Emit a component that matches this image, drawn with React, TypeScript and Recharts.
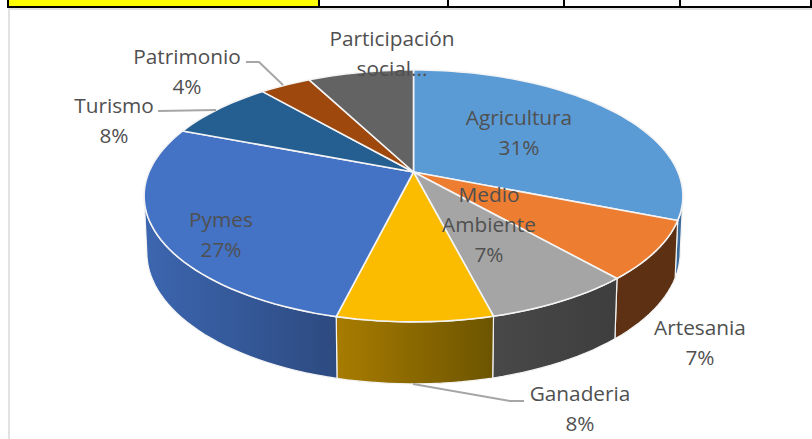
import React from 'react';
import { PieChart, Pie } from 'recharts';

const categories = ['Agricultura', 'Artesania', 'Medio Ambiente', 'Ganaderia', 'Pymes', 'Turismo', 'Patrimonio', 'Participación social'];
const shares = [31.05, 7.49, 7.49, 7.8, 27.05, 7.8, 3.7, 7.62];
const labelLines = [['Agricultura'], ['Artesania'], ['Medio', 'Ambiente'], ['Ganaderia'], ['Pymes'], ['Turismo'], ['Patrimonio'], ['Participación', 'social...']];
const topColors = ['#5B9BD5', '#ED7D31', '#A5A5A5', '#FBBC00', '#4472C4', '#255E91', '#9E480E', '#636363'];
const wallFrom = ['#3A6A9A', '#5E3114', '#484848', '#A87C00', '#3C66B0', '#1A4468', '#6E3209', '#444444'];
const wallTo = ['#3A6A9A', '#5C3013', '#3E3E3E', '#6C5400', '#2D4A80', '#1A4468', '#6E3209', '#444444'];

const chartData = categories.map((name, i) => ({ name, value: shares[i] }));

// label centres and leader lines, not data
const labelPos: [number, number][] = [[519, 118], [700, 328], [489, 195], [580, 394], [221, 220], [114, 106], [187, 57], [392, 39]];
const leaders: Record<number, string> = {
  3: '413,384 510,401 524,401',
  5: '158,111 216,110',
  6: '246,62 259,62 283,85',
};

const W = 812;
const H = 439;
const CX = 413.5;
const CY = 172;

// perspective of the tilted disc
const PERSP = 0.19;
const AX = 264.5;
const BY = 121.4;

function project(clockDeg: number, depth = false): [number, number] {
  const t = (clockDeg * Math.PI) / 180;
  const x = Math.sin(t);
  const y = Math.cos(t);
  const w = 1 + PERSP * y;
  const px = CX + (AX * x) / w;
  const py = CY - (BY * y) / w;
  if (!depth) return [px, py];
  return [CX + (px - CX) * 0.99, py + 62 - (1 + y) * 7];
}

function rim(a1: number, a2: number, depth = false) {
  const pts: string[] = [];
  const n = Math.max(2, Math.ceil(Math.abs(a2 - a1) / 2));
  for (let i = 0; i <= n; i++) {
    const [x, y] = project(a1 + ((a2 - a1) * i) / n, depth);
    pts.push(`${x.toFixed(1)},${y.toFixed(1)}`);
  }
  return pts;
}

function TopSlice(props: any) {
  const a1 = 90 - props.startAngle;
  const a2 = 90 - props.endAngle;
  const d = `M${CX},${CY} L${rim(a1, a2).join(' L')} Z`;
  return <path d={d} fill={topColors[props.index]} stroke="#F4F4F4" strokeWidth={1.6} strokeLinejoin="round" />;
}

function WallSlice(props: any) {
  const a1 = Math.max(90 - props.startAngle, 101);
  const a2 = Math.min(90 - props.endAngle, 259);
  if (a2 <= a1) return <g />;
  const pts = [...rim(a1, a2), ...rim(a2, a1, true)];
  const i = props.index;
  return (
    <g>
      <defs>
        <linearGradient id={`wall${i}`} x1="0" y1="0" x2="1" y2="0">
          <stop offset="0" stopColor={wallFrom[i]} />
          <stop offset="1" stopColor={wallTo[i]} />
        </linearGradient>
      </defs>
      <polygon points={pts.join(' ')} fill={`url(#wall${i})`} stroke="#F4F4F4" strokeWidth={1.2} strokeLinejoin="round" />
    </g>
  );
}

function SliceLabel(props: any) {
  const i = props.index;
  const [x, y] = labelPos[i];
  const lines = [...labelLines[i]];
  if (lines.length === 1 || i === 2) lines.push(`${Math.round(shares[i])}%`);
  return (
    <g>
      {leaders[i] && <polyline points={leaders[i]} fill="none" stroke="#A6A6A6" strokeWidth={2} />}
      {lines.map((line, k) => (
        <text
          key={k}
          x={x}
          y={y + k * 30 + 7}
          textAnchor="middle"
          fontFamily="'Open Sans', sans-serif"
          fontSize={20.8}
          fill="#505050"
        >
          {line}
        </text>
      ))}
    </g>
  );
}

const tableLines = [7, 318, 447, 563, 679, 810];

export default function App() {
  return (
    <div style={{ position: 'absolute', left: 0, top: 0, width: W, height: H, background: '#fff', overflow: 'hidden' }}>
      <div style={{ position: 'absolute', left: 8, top: 0, width: 311, height: 7, background: '#FFFF00' }} />
      <div style={{ position: 'absolute', left: 7, top: 6, width: 805, height: 2, background: '#000' }} />
      {tableLines.map(x => (
        <div key={x} style={{ position: 'absolute', left: x, top: 0, width: 2, height: 8, background: '#000' }} />
      ))}
      <div style={{ position: 'absolute', left: 8, top: 8, width: 804, height: 2, background: '#E2E2E2' }} />
      <div style={{ position: 'absolute', left: 8, top: 8, width: 2, height: 431, background: '#E2E2E2' }} />
      <div style={{ position: 'absolute', left: 0, top: 0 }}>
        <PieChart width={W} height={H} margin={{ top: 0, right: 0, bottom: 0, left: 0 }}>
          <Pie
            data={chartData}
            dataKey="value"
            nameKey="name"
            cx={CX}
            cy={CY}
            outerRadius={100}
            startAngle={90}
            endAngle={-270}
            shape={WallSlice}
            stroke="none"
            isAnimationActive={false}
          />
          <Pie
            data={chartData}
            dataKey="value"
            nameKey="name"
            cx={CX}
            cy={CY}
            outerRadius={100}
            startAngle={90}
            endAngle={-270}
            shape={TopSlice}
            label={SliceLabel}
            labelLine={false}
            isAnimationActive={false}
          />
        </PieChart>
      </div>
    </div>
  );
}
